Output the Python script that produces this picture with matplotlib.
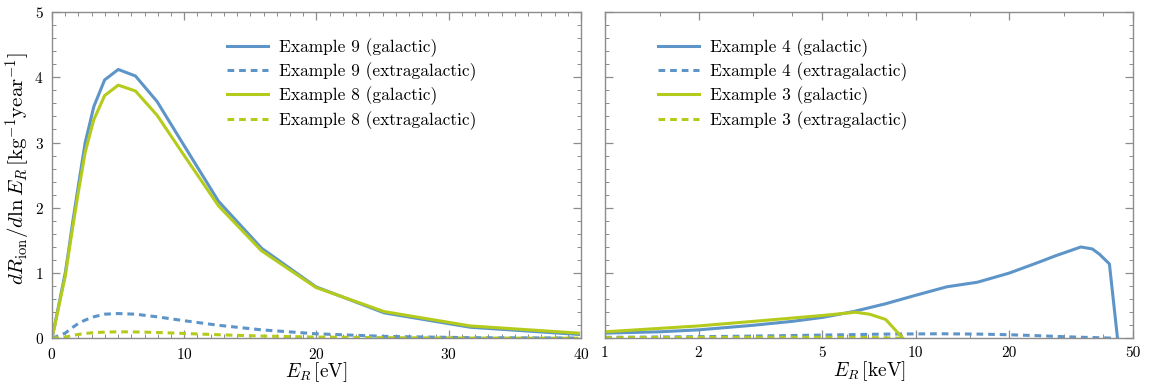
import numpy as np
import matplotlib
matplotlib.use("Agg")
import matplotlib.pyplot as plt
from matplotlib.ticker import MultipleLocator, FixedLocator, NullFormatter

plt.rcParams["font.family"] = "serif"
plt.rcParams["font.serif"] = ["cmr10"]
plt.rcParams["mathtext.fontset"] = "cm"
plt.rcParams["axes.formatter.use_mathtext"] = True

BLUE = "#5E95C9"
GREEN = "#B5CB1C"
FRAME = "#8C8C8C"

# ── left panel: eV recoils ──────────────────────────────────────────────
er_ev = [0, 1.0, 1.26, 1.58, 2.0, 2.51, 3.16, 3.98, 5.01, 6.31, 7.94,
         10.0, 12.59, 15.85, 19.95, 25.12, 31.62, 39.81]
ex9_gal = [0, 1.0, 1.35, 1.8, 2.35, 3.0, 3.55, 3.96, 4.12, 4.02, 3.63,
           2.95, 2.1, 1.38, 0.79, 0.39, 0.17, 0.06]
ex9_xgal = [0, 0.08, 0.12, 0.17, 0.23, 0.28, 0.33, 0.37, 0.38, 0.37, 0.33,
            0.27, 0.2, 0.13, 0.07, 0.03, 0.01, 0.005]
ex8_gal = [0, 0.95, 1.3, 1.72, 2.25, 2.85, 3.35, 3.72, 3.88, 3.79, 3.42,
           2.8, 2.03, 1.34, 0.78, 0.41, 0.19, 0.08]
ex8_xgal = [0, 0.02, 0.03, 0.045, 0.06, 0.075, 0.087, 0.095, 0.1, 0.098, 0.09,
            0.075, 0.055, 0.035, 0.02, 0.01, 0.004, 0.002]

# ── right panel: keV recoils ────────────────────────────────────────────
ex4_er = [1, 1.5, 2, 3, 4, 5, 6.3, 8, 10, 12.6, 15.8, 20, 25, 28, 34, 37, 39, 42, 44.6]
ex4_gal = [0.08, 0.1, 0.13, 0.2, 0.26, 0.32, 0.41, 0.53, 0.66, 0.79, 0.86, 1.0,
           1.17, 1.26, 1.40, 1.37, 1.29, 1.14, 0.0]
ex4_xer = [1, 2, 3, 5, 8, 12, 16, 20, 25, 30, 35, 40, 44.6]
ex4_xgal = [0.015, 0.025, 0.035, 0.05, 0.065, 0.07, 0.065, 0.055, 0.04, 0.025,
            0.015, 0.008, 0.0]
ex3_er = [1, 2, 3, 5, 6.4, 7.1, 8.0, 9.1]
ex3_gal = [0.10, 0.19, 0.26, 0.35, 0.40, 0.37, 0.29, 0.0]
ex3_xer = [1, 3, 5, 7, 8.5, 9.1]
ex3_xgal = [0.01, 0.015, 0.015, 0.012, 0.005, 0.0]

fig = plt.figure(figsize=(11.53, 3.88), dpi=100)
ax1 = fig.add_axes([0.0451, 0.128, 0.4588, 0.841])
ax2 = fig.add_axes([0.5247, 0.128, 0.4579, 0.841])

lw = 2.2
dash = (0, (2.2, 1.6))

ax1.plot(er_ev, ex9_gal, color=BLUE, lw=lw, label="Example 9 (galactic)")
ax1.plot(er_ev, ex9_xgal, color=BLUE, lw=lw, ls=dash, label="Example 9 (extragalactic)")
ax1.plot(er_ev, ex8_gal, color=GREEN, lw=lw, label="Example 8 (galactic)")
ax1.plot(er_ev, ex8_xgal, color=GREEN, lw=lw, ls=dash, label="Example 8 (extragalactic)")

ax2.plot(ex4_er, ex4_gal, color=BLUE, lw=lw, label="Example 4 (galactic)")
ax2.plot(ex4_xer, ex4_xgal, color=BLUE, lw=lw, ls=dash, label="Example 4 (extragalactic)")
ax2.plot(ex3_er, ex3_gal, color=GREEN, lw=lw, label="Example 3 (galactic)")
ax2.plot(ex3_xer, ex3_xgal, color=GREEN, lw=lw, ls=dash, label="Example 3 (extragalactic)")

ax1.set_xlim(0, 40)
ax1.set_ylim(0, 5)
ax1.xaxis.set_major_locator(MultipleLocator(10))
ax1.xaxis.set_minor_locator(MultipleLocator(1))

ax2.set_xscale("log")
ax2.set_xlim(1, 50)
ax2.set_ylim(0, 5)
ax2.xaxis.set_major_locator(FixedLocator([1, 2, 5, 10, 20, 50]))
ax2.xaxis.set_major_formatter(plt.FixedFormatter(["1", "2", "5", "10", "20", "50"]))
ax2.xaxis.set_minor_locator(FixedLocator([1.5, 3, 4, 6, 7, 8, 9, 15, 30, 40]))
ax2.xaxis.set_minor_formatter(NullFormatter())
ax2.yaxis.set_major_formatter(NullFormatter())

for ax in (ax1, ax2):
    ax.yaxis.set_major_locator(MultipleLocator(1))
    ax.yaxis.set_minor_locator(MultipleLocator(0.2))
    for s in ax.spines.values():
        s.set_color(FRAME)
        s.set_linewidth(1.0)
    ax.tick_params(which="both", direction="in", top=True, right=True,
                   color=FRAME, labelsize=11, pad=6)
    ax.tick_params(which="major", length=6, width=0.9)
    ax.tick_params(which="minor", length=3, width=0.7)

ax1.set_ylabel(r"$dR_{\rm ion}/d\ln E_R\,[{\rm kg}^{-1}{\rm year}^{-1}]$", fontsize=15)
ax1.yaxis.set_label_coords(-0.036, 0.52)
ax1.set_xlabel(r"$E_R\,[{\rm eV}]$", fontsize=14, labelpad=-1)
ax2.set_xlabel(r"$E_R\,[{\rm keV}]$", fontsize=14, labelpad=-1)

leg_kw = dict(loc="upper left", frameon=False, fontsize=12.5, handlelength=2.4,
              handletextpad=0.6, labelspacing=0.32, borderaxespad=0, borderpad=0)
ax1.legend(bbox_to_anchor=(0.33, 0.92), **leg_kw)
ax2.legend(bbox_to_anchor=(0.10, 0.92), **leg_kw)

plt.savefig("out.png", dpi=100)
plt.close()
